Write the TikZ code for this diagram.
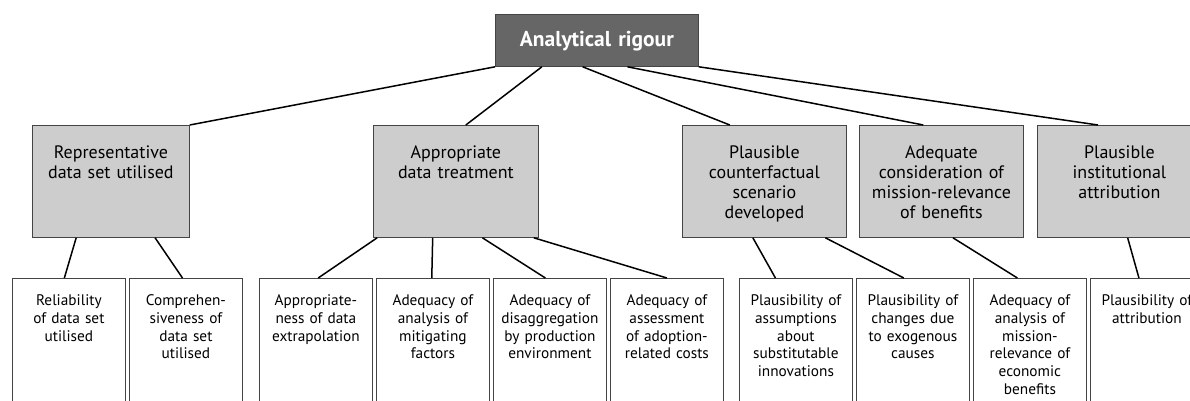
\documentclass[tikz,border=0pt]{standalone}
\usepackage{fontspec}
\setmainfont{PT Sans}
\usetikzlibrary{calc}
\definecolor{topfill}{HTML}{666666}
\definecolor{midfill}{HTML}{CDCDCD}
\definecolor{edgegray}{HTML}{444444}
\begin{document}
\begin{tikzpicture}[x=1pt,y=-1pt,
  topbox/.style={draw=edgegray, fill=topfill, line width=0.8pt, inner sep=0pt, text width=203pt, align=center, text height=32pt, text depth=20pt, text=white, font=\fontsize{21.5}{22}\selectfont\bfseries},
  midbox/.style={draw=edgegray, fill=midfill, line width=0.8pt, inner sep=0pt, align=center, text height=33pt, text depth=79pt, font=\fontsize{18}{20}\selectfont},
  lowbox/.style={draw=edgegray, fill=white, line width=0.8pt, inner sep=0pt, text width=113pt, align=center, text height=27pt, text depth=100pt, font=\fontsize{15.3}{17.8}\selectfont},
  link/.style={line width=1.5pt, black}]
\useasboundingbox (0,0) rectangle (1190,401);
\clip (0,0) rectangle (1190,401);

\node[topbox, anchor=north west] (top) at (495,14) {Analytical rigour};

\node[midbox, text width=157pt, anchor=north west] (m1) at (32,125) {Representative\\data set utilised};
\node[midbox, text width=165pt, anchor=north west] (m2) at (373,125) {Appropriate\\data treatment};
\node[midbox, text width=164pt, anchor=north west] (m3) at (682,125) {Plausible\\counterfactual\\scenario\\developed};
\node[midbox, text width=164pt, anchor=north west] (m4) at (859,125) {Adequate\\consideration of\\mission-relevance\\of benefits};
\node[midbox, text width=164pt, anchor=north west] (m5) at (1037,125) {Plausible\\institutional\\attribution};

\node[lowbox, anchor=north west] (b1) at (12,278) {Reliability\\of data set\\utilised};
\node[lowbox, anchor=north west] (b2) at (129,278) {Comprehen-\\siveness of\\data set\\utilised};
\node[lowbox, anchor=north west] (b3) at (259,278) {Appropriate-\\ness of data\\extrapolation};
\node[lowbox, anchor=north west] (b4) at (376,278) {Adequacy of\\analysis of\\mitigating\\factors};
\node[lowbox, anchor=north west] (b5) at (493,278) {Adequacy of\\disaggregation\\by production\\environment};
\node[lowbox, anchor=north west] (b6) at (610,278) {Adequacy of\\assessment\\of adoption-\\related costs};
\node[lowbox, anchor=north west] (b7) at (739,278) {Plausibility of\\assumptions\\about\\substitutable\\innovations};
\node[lowbox, anchor=north west] (b8) at (856,278) {Plausibility of\\changes due\\to exogenous\\causes};
\node[lowbox, anchor=north west] (b9) at (973,278) {Adequacy of\\analysis of\\mission-\\relevance of\\economic\\benefits};
\node[lowbox, anchor=north west] (b10) at (1090,278) {Plausibility of\\attribution};

% top level links
\draw[link] (top.south west) -- (m1.north east);
\draw[link] ($(top.south west)!0.23!(top.south east)$) -- ($(m2.north west)!0.56!(m2.north east)$);
\draw[link] ($(top.south west)!0.43!(top.south east)$) -- ($(m3.north west)!0.29!(m3.north east)$);
\draw[link] ($(top.south west)!0.65!(top.south east)$) -- ($(m4.north west)!0.39!(m4.north east)$);
\draw[link] (top.south east) -- ($(m5.north west)!0.37!(m5.north east)$);

% lower links
\draw[link] ($(m1.south west)!0.28!(m1.south east)$) -- ($(b1.north west)!0.46!(b1.north east)$);
\draw[link] ($(m1.south west)!0.78!(m1.south east)$) -- ($(b2.north west)!0.47!(b2.north east)$);
\draw[link] ($(m2.south west)!0.025!(m2.south east)$) -- ($(b3.north west)!0.52!(b3.north east)$);
\draw[link] ($(m2.south west)!0.36!(m2.south east)$) -- ($(b4.north west)!0.49!(b4.north east)$);
\draw[link] ($(m2.south west)!0.66!(m2.south east)$) -- ($(b5.north west)!0.46!(b5.north east)$);
\draw[link] ($(m2.south west)!0.97!(m2.south east)$) -- ($(b6.north west)!0.50!(b6.north east)$);
\draw[link] ($(m3.south west)!0.43!(m3.south east)$) -- ($(b7.north west)!0.32!(b7.north east)$);
\draw[link] ($(m3.south west)!0.87!(m3.south east)$) -- ($(b8.north west)!0.42!(b8.north east)$);
\draw[link] ($(m4.south west)!0.57!(m4.south east)$) -- ($(b9.north west)!0.39!(b9.north east)$);
\draw[link] ($(m5.south west)!0.55!(m5.south east)$) -- ($(b10.north west)!0.43!(b10.north east)$);
\end{tikzpicture}
\end{document}
